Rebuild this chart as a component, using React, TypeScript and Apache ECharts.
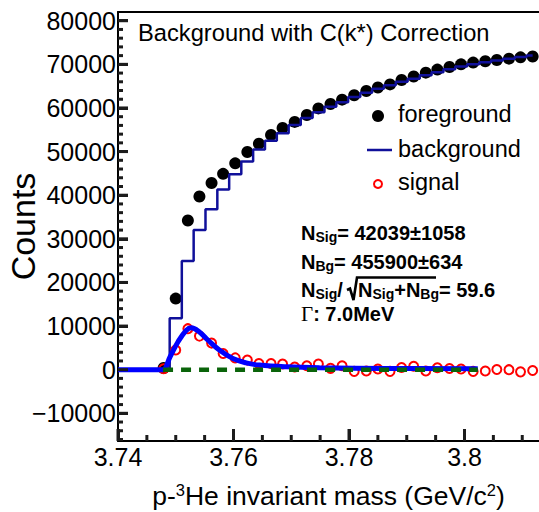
import React, { useEffect, useRef } from "react";
import * as echarts from "echarts";

// ---- data ----
const massBins = [
  3.7479, 3.75, 3.7521, 3.7541, 3.7562, 3.7582, 3.7603, 3.7624, 3.7644, 3.7665, 3.7685,
  3.7706, 3.7727, 3.7747, 3.7768, 3.7788, 3.7809, 3.783, 3.785, 3.7871, 3.7891, 3.7912,
  3.7933, 3.7953, 3.7974, 3.7994, 3.8015, 3.8036, 3.8056, 3.8077, 3.8097, 3.8118,
];
const foreground = [
  400, 16300, 34200, 39700, 42800, 44900, 47300, 49900, 51800, 53800, 55400, 56800, 58400,
  59900, 60900, 61900, 62900, 63900, 64700, 65400, 66400, 67200, 68100, 68800, 69400, 70000,
  70400, 70700, 71000, 71300, 71600, 71800,
];
const background = [
  0, 11800, 24900, 32000, 36800, 41300, 44800, 47700, 50500, 52500, 54200, 56100, 57700,
  59000, 60300, 61300, 62500, 63500, 64400, 65200, 66000, 66700, 67500, 68200, 68900, 69500,
  70000, 70500, 70900, 71300, 71700, 72000,
];
const signal = [
  200, 4500, 9400, 7700, 6100, 3700, 2700, 2200, 1400, 1400, 1300, 600, 900, 1300, 300, 900,
  -400, -300, 150, -400, 500, 800, -300, 450, 270, 150, -400, -300, 50, 0, -500, -200,
];
const fitMass = [
  3.74, 3.747, 3.7478, 3.749, 3.7504, 3.7518, 3.7527, 3.7541, 3.7556, 3.7576, 3.7599, 3.7622,
  3.7645, 3.7691, 3.7749, 3.7865, 3.8023,
];
const fitCounts = [
  0, 0, 0, 2900, 6400, 9000, 9600, 8650, 6750, 4450, 2550, 1550, 1050, 650, 420, 280, 220,
];
const polyMass = [3.7478, 3.8023];
const polyCounts = [0, 0];

// ticks
const xMajorTicks = [3.74, 3.76, 3.78, 3.8];
const xMinorTicks = [3.745, 3.75, 3.755, 3.765, 3.77, 3.775, 3.785, 3.79, 3.795, 3.805, 3.81];
const yMajorTicks = [-10000, 0, 10000, 20000, 30000, 40000, 50000, 60000, 70000, 80000];
const yMinorTicks = [
  -16000, -14000, -12000, -8000, -6000, -4000, -2000, 2000, 4000, 6000, 8000, 12000, 14000,
  16000, 18000, 22000, 24000, 26000, 28000, 32000, 34000, 36000, 38000, 42000, 44000, 46000,
  48000, 52000, 54000, 56000, 58000, 62000, 64000, 66000, 68000, 72000, 74000, 76000, 78000,
];

// axis ranges
const X_MIN = 3.74;
const X_MAX = 3.8129;
const X_MAJOR = 0.02;
const Y_MIN = -16350;
const Y_MAX = 82000;
const Y_LABEL_MIN = -10000;
const Y_MAJOR = 10000;

const FONT = '"Liberation Sans", Arial, Helvetica, sans-serif';
const SERIF = '"Liberation Serif", "Times New Roman", serif';
const TICK = "#1c1c1c";

const pairs = (xs: number[], ys: number[]) => xs.map((x, i) => [x, ys[i]]);

function xTickSeries(values: number[], len: number) {
  return {
    type: "custom",
    xAxisIndex: 0,
    yAxisIndex: 0,
    clip: false,
    z: 7,
    data: values.map((v) => [v, Y_MIN]),
    renderItem: (_p: any, api: any) => {
      const pt = api.coord([api.value(0), api.value(1)]);
      return {
        type: "line",
        shape: { x1: pt[0], y1: pt[1], x2: pt[0], y2: pt[1] - len },
        style: { stroke: TICK, lineWidth: 3 },
      };
    },
  };
}

function yTickSeries(values: number[], len: number) {
  return {
    type: "custom",
    xAxisIndex: 0,
    yAxisIndex: 0,
    clip: false,
    z: 7,
    data: values.map((v) => [X_MIN, v]),
    renderItem: (_p: any, api: any) => {
      const pt = api.coord([api.value(0), api.value(1)]);
      return {
        type: "line",
        shape: { x1: pt[0], y1: pt[1], x2: pt[0] + len, y2: pt[1] },
        style: { stroke: TICK, lineWidth: 3 },
      };
    },
  };
}

export default function App() {
  const ref = useRef<HTMLDivElement>(null);

  useEffect(() => {
    if (!ref.current) return;
    const chart = echarts.init(ref.current, null, { renderer: "svg" });

    const H = 512;
    const gTop = 12;
    const gBottomPx = 441;
    const pxPerUnit = (gBottomPx - gTop) / (Y_MAX - Y_MIN);
    const bottomFor = (v: number) => H - (gTop + (Y_MAX - v) * pxPerUnit);

    const mkLine = () => ({ show: true, onZero: false, lineStyle: { color: "#000", width: 2 } });
    const bold = () => ({ fontSize: 20, fontWeight: "bold", fontFamily: FONT, lineHeight: 22, fill: "#000" });
    const sub = () => ({
      fontSize: 14,
      fontWeight: "bold",
      fontFamily: FONT,
      lineHeight: 12,
      verticalAlign: "bottom",
      fill: "#000",
    });

    const option: any = {
      animation: false,
      backgroundColor: "#fff",
      grid: [
        { left: 118, right: 0, top: gTop, bottom: H - gBottomPx, containLabel: false, outerBoundsMode: "none" },
        { left: 118, right: 0, top: gTop, bottom: bottomFor(Y_LABEL_MIN), containLabel: false, outerBoundsMode: "none" },
      ],
      xAxis: [
        {
          type: "value",
          gridIndex: 0,
          min: X_MIN,
          max: X_MAX,
          interval: X_MAJOR,
          position: "bottom",
          axisLine: mkLine(),
          splitLine: { show: false },
          axisTick: { show: true, inside: true, length: 12, lineStyle: { color: TICK, width: 3 } },
          axisLabel: {
            show: true,
            showMaxLabel: false,
            margin: 3,
            fontSize: 25,
            fontFamily: FONT,
            color: "#000",
            formatter: (v: number) => String(Math.round(v * 1000) / 1000),
          },
          name: "p-{sup|3}He invariant mass (GeV/c{sup|2})",
          nameLocation: "middle",
          nameGap: 40,
          nameMoveOverlap: false,
          nameTextStyle: {
            fontSize: 26.5,
            fontFamily: FONT,
            color: "#000",
            lineHeight: 30,
            rich: {
              sup: { fontSize: 16.5, fontFamily: FONT, color: "#000", lineHeight: 10, verticalAlign: "top" },
            },
          },
        },
        {
          type: "value",
          gridIndex: 0,
          min: X_MIN,
          max: X_MAX,
          position: "top",
          axisLine: mkLine(),
          splitLine: { show: false },
          axisLabel: { show: false },
          axisTick: { show: false },
        },
        { type: "value", gridIndex: 1, min: X_MIN, max: X_MAX, show: false },
      ],
      yAxis: [
        {
          type: "value",
          gridIndex: 0,
          min: Y_MIN,
          max: Y_MAX,
          position: "left",
          axisLine: mkLine(),
          splitLine: { show: false },
          axisTick: { show: false },
          axisLabel: { show: false },
          name: "Counts",
          nameLocation: "middle",
          nameGap: 78,
          nameMoveOverlap: false,
          nameTextStyle: { fontSize: 34, fontFamily: FONT, color: "#000" },
        },
        {
          type: "value",
          gridIndex: 1,
          min: Y_LABEL_MIN,
          max: Y_MAX,
          interval: Y_MAJOR,
          position: "left",
          axisLine: { show: false, onZero: false },
          splitLine: { show: false },
          axisTick: { show: true, inside: true, length: 10, lineStyle: { color: TICK, width: 3 } },
          axisLabel: {
            show: true,
            showMaxLabel: false,
            margin: 2,
            fontSize: 25,
            fontFamily: FONT,
            color: "#000",
            formatter: (v: number) => (v < 0 ? "\u2212" + Math.abs(v) : String(v)),
          },
        },
      ],
      series: [
        {
          name: "foreground",
          type: "scatter",
          xAxisIndex: 0,
          yAxisIndex: 0,
          data: pairs(massBins, foreground),
          symbol: "circle",
          symbolSize: 12,
          itemStyle: { color: "#000", opacity: 1 },
          z: 2,
        },
        {
          name: "background",
          type: "line",
          xAxisIndex: 0,
          yAxisIndex: 0,
          step: "middle",
          data: pairs(massBins, background),
          showSymbol: false,
          symbol: "none",
          lineStyle: { color: "#10109a", width: 2.5 },
          z: 3,
        },
        {
          name: "signal",
          type: "scatter",
          xAxisIndex: 0,
          yAxisIndex: 0,
          data: pairs(massBins, signal),
          symbol: "circle",
          symbolSize: 9,
          itemStyle: { color: "rgba(0,0,0,0)", borderColor: "#ff0000", borderWidth: 2, opacity: 1 },
          z: 4,
        },
        {
          name: "fit",
          type: "line",
          xAxisIndex: 0,
          yAxisIndex: 0,
          smooth: 0.4,
          data: pairs(fitMass, fitCounts),
          symbol: "none",
          lineStyle: { color: "#0000ff", width: 5 },
          z: 5,
        },
        {
          name: "poly",
          type: "line",
          xAxisIndex: 0,
          yAxisIndex: 0,
          data: pairs(polyMass, polyCounts),
          symbol: "none",
          lineStyle: { color: "#0a640a", width: 4.5, type: [10, 8] },
          z: 6,
        },
        xTickSeries(xMajorTicks, 12),
        xTickSeries(xMinorTicks, 6),
        yTickSeries(yMajorTicks, 10),
        yTickSeries(yMinorTicks, 5),
      ],
      graphic: [
        {
          type: "text",
          x: 138,
          y: 33,
          style: {
            text: "Background with C(k*) Correction",
            fontSize: 23.7,
            fontFamily: FONT,
            fill: "#000",
            verticalAlign: "middle",
          },
          z: 10,
        },
        { type: "circle", shape: { cx: 378, cy: 116, r: 6 }, style: { fill: "#000" }, z: 10 },
        {
          type: "text",
          x: 398,
          y: 114,
          style: { text: "foreground", fontSize: 23.5, fontFamily: FONT, fill: "#000", verticalAlign: "middle" },
          z: 10,
        },
        {
          type: "line",
          shape: { x1: 367, y1: 150, x2: 392, y2: 150 },
          style: { stroke: "#10109a", lineWidth: 2.5 },
          z: 10,
        },
        {
          type: "text",
          x: 398,
          y: 149,
          style: { text: "background", fontSize: 23.5, fontFamily: FONT, fill: "#000", verticalAlign: "middle" },
          z: 10,
        },
        {
          type: "circle",
          shape: { cx: 378, cy: 184, r: 4 },
          style: { fill: "none", stroke: "#ff0000", lineWidth: 2 },
          z: 10,
        },
        {
          type: "text",
          x: 398,
          y: 182,
          style: { text: "signal", fontSize: 23.5, fontFamily: FONT, fill: "#000", verticalAlign: "middle" },
          z: 10,
        },
        {
          type: "text",
          x: 301,
          y: 222,
          style: { text: "{b|N}{s|Sig}{b|= 42039\u00b11058}", rich: { b: bold(), s: sub() }, verticalAlign: "top" },
          z: 10,
        },
        {
          type: "text",
          x: 301,
          y: 250.5,
          style: { text: "{b|N}{s|Bg}{b|= 455900\u00b1634}", rich: { b: bold(), s: sub() }, verticalAlign: "top" },
          z: 10,
        },
        {
          type: "text",
          x: 301,
          y: 279,
          style: { text: "{b|N}{s|Sig}{b|/}", rich: { b: bold(), s: sub() }, verticalAlign: "top" },
          z: 10,
        },
        {
          type: "polyline",
          shape: {
            points: [
              [347, 290],
              [350, 288.5],
              [353.5, 300],
              [357, 277.5],
              [436, 277.5],
            ],
          },
          style: { stroke: "#000", lineWidth: 2.6, fill: "none" },
          z: 10,
        },
        {
          type: "text",
          x: 358,
          y: 279,
          style: {
            text: "{b|N}{s|Sig}{b|+N}{s|Bg}{b|= 59.6}",
            rich: { b: bold(), s: sub() },
            verticalAlign: "top",
          },
          z: 10,
        },
        {
          type: "text",
          x: 301,
          y: 303,
          style: {
            text: "{g|\u0393}{b|: 7.0MeV}",
            rich: {
              b: bold(),
              g: { fontSize: 21, fontFamily: SERIF, lineHeight: 22, fill: "#000" },
            },
            verticalAlign: "top",
          },
          z: 10,
        },
      ],
    };

    chart.setOption(option);
    return () => chart.dispose();
  }, []);

  return (
    <div
      ref={ref}
      style={{ position: "fixed", left: 0, top: 0, width: 539, height: 512, background: "#fff" }}
    />
  );
}
